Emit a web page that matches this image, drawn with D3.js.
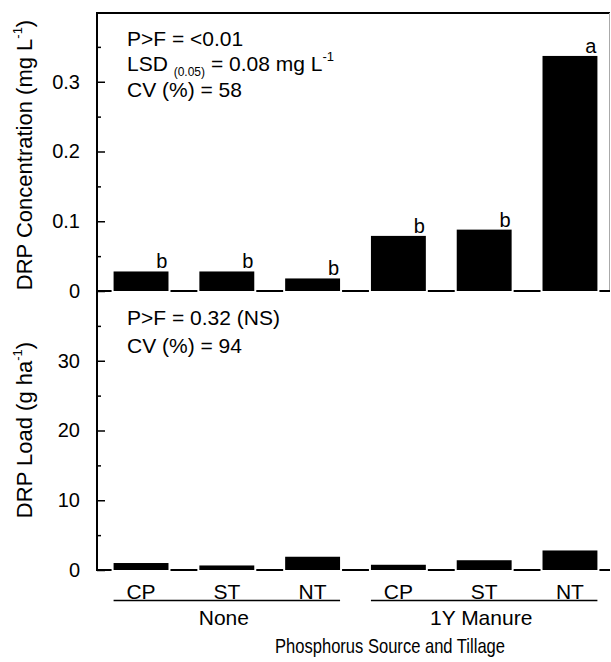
<!DOCTYPE html>
<html lang="en">
<head>
    <meta charset="UTF-8">
    <title>DRP Concentration and Load</title>
    <script src="https://d3js.org/d3.v7.min.js"></script>
    <style>
        body {
            margin: 0;
            background: #fff;
        }
        svg text {
            font-family: "Liberation Sans", Arial, Helvetica, sans-serif;
            fill: #000;
        }
        .axis text {
            font-size: 20px;
        }
        .axis line {
            stroke: #000;
            stroke-width: 1.5px;
        }
    </style>
</head>
<body>
    <svg id="chart" width="611" height="662"></svg>

    <script>
        // data
        var tillage = ["CP", "ST", "NT", "CP", "ST", "NT"];
        var source = ["None", "None", "None", "1Y Manure", "1Y Manure", "1Y Manure"];
        var concentration = [0.028, 0.028, 0.018, 0.079, 0.088, 0.337];   // mg L-1
        var load = [1.0, 0.65, 1.9, 0.75, 1.4, 2.8];                      // g ha-1
        var letters = ["b", "b", "b", "b", "b", "a"];

        var concTicks = [0, 0.1, 0.2, 0.3],
            concMinor = [0.05, 0.15, 0.25, 0.35],
            loadTicks = [0, 10, 20, 30],
            loadMinor = [5, 15, 25, 35];

        var groups = ["None", "1Y Manure"];

        var keys = tillage.map(function(d, i) { return source[i] + "|" + d; });

        var axisX = 97, rightX = 610, topY = 12;

        var svg = d3.select("#chart");

        var x = d3.scaleBand()
            .domain(keys)
            .range([99, 612])
            .paddingInner(0.36)
            .paddingOuter(0.17);

        var yTop = d3.scaleLinear().domain([0, 0.4]).range([291, topY]);
        var yBot = d3.scaleLinear().domain([0, 40]).range([570, 291]);

        // frame: top line and faint right edge
        svg.append("line")
            .attr("x1", axisX).attr("x2", rightX)
            .attr("y1", topY + 1).attr("y2", topY + 1)
            .attr("stroke", "#000").attr("stroke-width", 2);
        svg.append("line")
            .attr("x1", rightX - 0.5).attr("x2", rightX - 0.5)
            .attr("y1", topY + 1).attr("y2", 291)
            .attr("stroke", "#aaa").attr("stroke-width", 1);

        function drawPanel(y, values, ticks, minor, fmt) {
            // major ticks, pointing inward
            svg.append("g")
                .attr("class", "axis")
                .attr("transform", "translate(" + axisX + ",0)")
                .call(d3.axisLeft(y).tickValues(ticks).tickSizeInner(-8).tickSizeOuter(0)
                    .tickPadding(17).tickFormat(fmt))
                .call(g => g.select(".domain").remove());

            // minor ticks
            svg.append("g")
                .attr("class", "axis")
                .attr("transform", "translate(" + axisX + ",0)")
                .call(d3.axisLeft(y).tickValues(minor).tickSizeInner(-4).tickSizeOuter(0)
                    .tickFormat(""))
                .call(g => g.select(".domain").remove());

            var y0 = y(0);

            // baseline pieces between the bars
            var edges = [axisX];
            keys.forEach(function(k) {
                edges.push(x(k) - 2);
                edges.push(x(k) + x.bandwidth() + 2);
            });
            edges.push(rightX);
            for (var i = 0; i < edges.length; i += 2) {
                svg.append("line")
                    .attr("x1", edges[i]).attr("x2", edges[i + 1])
                    .attr("y1", y0).attr("y2", y0)
                    .attr("stroke", "#000").attr("stroke-width", 2);
            }

            svg.append("g").selectAll("rect")
                .data(values)
                .enter().append("rect")
                .attr("x", function(d, i) { return x(keys[i]); })
                .attr("y", function(d) { return y(d); })
                .attr("width", x.bandwidth())
                .attr("height", function(d) { return y0 - y(d); })
                .attr("fill", "#000");
        }

        drawPanel(yTop, concentration, concTicks, concMinor,
            function(d) { return d === 0 ? "0" : d3.format(".1f")(d); });
        drawPanel(yBot, load, loadTicks, loadMinor, d3.format("d"));

        // y axis line
        svg.append("line")
            .attr("x1", axisX).attr("x2", axisX)
            .attr("y1", topY).attr("y2", 571)
            .attr("stroke", "#000").attr("stroke-width", 2);

        // significance letters
        svg.append("g").selectAll("text")
            .data(letters)
            .enter().append("text")
            .attr("x", function(d, i) { return x(keys[i]) + x.bandwidth() - 1; })
            .attr("y", function(d, i) { return yTop(concentration[i]) - 3; })
            .attr("text-anchor", "end")
            .style("font-size", "20px")
            .text(function(d) { return d; });

        // statistics notes
        function note(xp, yp, parts) {
            var t = svg.append("text")
                .attr("x", xp).attr("y", yp)
                .style("font-size", "21px");
            parts.forEach(function(p) {
                var s = t.append("tspan").text(p.t);
                if (p.size) s.style("font-size", p.size + "px");
                if (p.dy) s.attr("dy", p.dy);
            });
        }

        note(127, 46, [{t: "P>F = <0.01"}]);
        note(127, 71, [
            {t: "LSD "},
            {t: "(0.05)", size: 12, dy: 5},
            {t: " = 0.08 mg L", dy: -5},
            {t: "-1", size: 13, dy: -10}
        ]);
        note(127, 97, [{t: "CV (%) = 58"}]);

        note(127, 325, [{t: "P>F = 0.32 (NS)"}]);
        note(127, 353, [{t: "CV (%) = 94"}]);

        // y axis titles
        function yTitle(cy, main, sup, tail) {
            var t = svg.append("text")
                .attr("transform", "translate(32," + cy + ") rotate(-90)")
                .attr("text-anchor", "middle")
                .style("font-size", "22px");
            t.append("tspan").text(main);
            t.append("tspan").text(sup).style("font-size", "13px").attr("dy", -10);
            t.append("tspan").text(tail).attr("dy", 10);
        }
        yTitle(155, "DRP Concentration (mg L", "-1", ")");
        yTitle(430, "DRP Load (g ha", "-1", ")");

        // category labels under the bars
        svg.append("g").selectAll("text")
            .data(tillage)
            .enter().append("text")
            .attr("x", function(d, i) { return x(keys[i]) + x.bandwidth() / 2; })
            .attr("y", 599)
            .attr("text-anchor", "middle")
            .style("font-size", "21px")
            .text(function(d) { return d; });

        groups.forEach(function(g) {
            var idx = keys.filter(function(k, i) { return source[i] === g; });
            var x1 = x(idx[0]),
                x2 = x(idx[idx.length - 1]) + x.bandwidth();
            svg.append("line")
                .attr("x1", x1).attr("x2", x2)
                .attr("y1", 600.5).attr("y2", 600.5)
                .attr("stroke", "#000").attr("stroke-width", 1.5);
            svg.append("text")
                .attr("x", (x1 + x2) / 2 - 3)
                .attr("y", 625)
                .attr("text-anchor", "middle")
                .style("font-size", "21px")
                .text(g);
        });

        svg.append("text")
            .attr("x", 390)
            .attr("y", 653)
            .attr("text-anchor", "middle")
            .attr("textLength", 230)
            .attr("lengthAdjust", "spacingAndGlyphs")
            .style("font-size", "21px")
            .text("Phosphorus Source and Tillage");
    </script>
</body>
</html>
